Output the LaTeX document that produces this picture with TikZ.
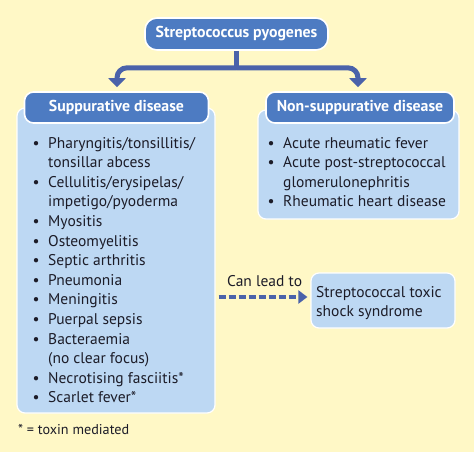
\documentclass[tikz,border=0pt]{standalone}
\usepackage{fontspec}
\setmainfont{PT Sans}
\usetikzlibrary{arrows.meta}
\definecolor{bgyellow}{HTML}{FFF8C6}
\definecolor{hdrblue}{HTML}{4D7BC2}
\definecolor{arrblue}{HTML}{4A62AA}
\definecolor{lightblue}{HTML}{BDD8F3}
\definecolor{txtdark}{HTML}{1C1C28}
\tikzset{
  hdrbox/.style={draw=white, line width=1.6pt, fill=hdrblue, rounded corners=9pt,
    text=white, font=\fontsize{15.8}{18}\selectfont\bfseries, inner sep=0pt},
  listbox/.style={draw=white, line width=1.2pt, fill=lightblue, rounded corners=8pt, inner sep=0pt},
  listtext/.style={inner sep=0pt, text=txtdark, font=\fontsize{15.5}{19.6}\selectfont, anchor=base west},
  stem/.style={draw=arrblue, line width=5pt},
  conn/.style={draw=arrblue, line width=5pt, rounded corners=10pt,
    -{Triangle[width=17pt,length=9pt]}, shorten >=4pt},
  dasharr/.style={draw=arrblue, line width=4.5pt, dash pattern=on 7pt off 3pt,
    -{Triangle[width=13pt,length=9pt]}},
}
\newcommand{\bl}{\textbullet}
\begin{document}
\begin{tikzpicture}[x=1pt,y=-1pt]
\fill[bgyellow] (0,0) rectangle (474,452);
\useasboundingbox (0,0) rectangle (474,452);
% list boxes
\node[listbox, minimum width=198pt, minimum height=305pt] (lbox) at (116,260.5) {};
\node[listbox, minimum width=201pt, minimum height=109pt] (rbox) at (358.5,164.5) {};
\node[listbox, minimum width=144pt, minimum height=55pt] (sbox) at (383,300.5) {};
% headers
\node[hdrbox, rounded corners=12pt, minimum width=183pt, minimum height=32pt] (top) at (236.5,34) {Streptococcus pyogenes};
\node[hdrbox, minimum width=184pt, minimum height=31pt] (lhead) at (116.5,107.5) {Suppurative disease};
\node[hdrbox, minimum width=188pt, minimum height=31pt] (rhead) at (360,107.5) {Non-suppurative disease};
% lists
\node[listtext] (ltext) at (32.5,148) {\begin{tabular}[t]{@{}p{15.5pt}@{}l@{}}
\bl & Pharyngitis/tonsillitis/\\
 & tonsillar abcess\\
\bl & Cellulitis/erysipelas/\\
 & impetigo/pyoderma\\
\bl & Myositis\\
\bl & Osteomyelitis\\
\bl & Septic arthritis\\
\bl & Pneumonia\\
\bl & Meningitis\\
\bl & Puerpal sepsis\\
\bl & Bacteraemia\\
 & (no clear focus)\\
\bl & Necrotising fasciitis*\\
\bl & Scarlet fever*
\end{tabular}};
\node[listtext] (rtext) at (267.5,148) {\begin{tabular}[t]{@{}p{15.5pt}@{}l@{}}
\bl & Acute rheumatic fever\\
\bl & Acute post-streptococcal\\
 & glomerulonephritis\\
\bl & Rheumatic heart disease
\end{tabular}};
\node[listtext, font=\fontsize{15.5}{19}\selectfont] (stext) at (316,297) {\begin{tabular}[t]{@{}l@{}}
Streptococcal toxic\\
shock syndrome
\end{tabular}};
\node[listtext] (canlead) at (227,286) {Can lead to};
\node[listtext, font=\fontsize{14.2}{16}\selectfont] (foot) at (18,434) {* = toxin mediated};
% connectors
\coordinate (jn) at ([yshift=-17pt]top.south);
\draw[stem] (top.south) -- ([yshift=-2.5pt]jn);
\draw[conn] (jn) -| ([xshift=0.5pt]lhead.north);
\draw[conn] (jn) -| ([xshift=-2pt]rhead.north);
\coordinate (dend) at ([yshift=3.5pt]sbox.west);
\draw[dasharr, shorten <=3pt, shorten >=3pt] (lbox.east |- dend) -- (dend);
\end{tikzpicture}
\end{document}
